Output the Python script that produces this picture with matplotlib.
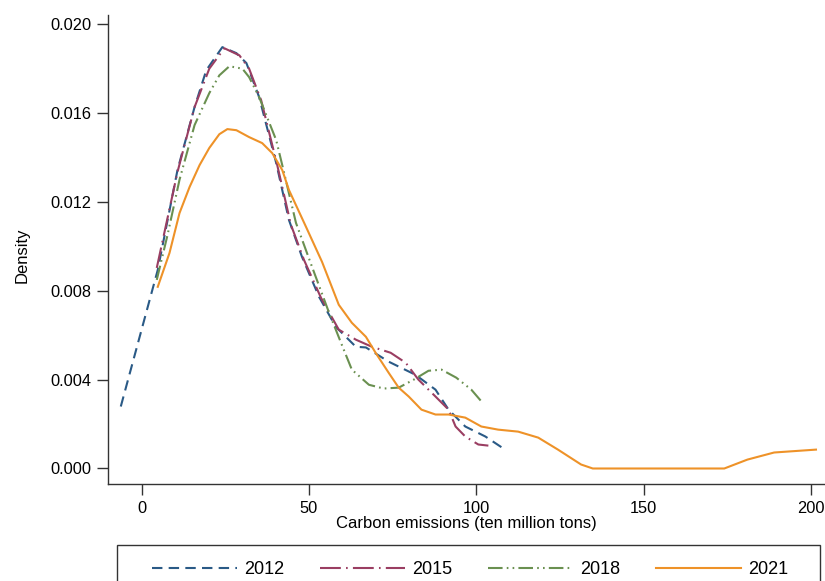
import matplotlib.pyplot as plt
from matplotlib.patches import Rectangle

plt.rcParams['font.family'] = ['Liberation Sans', 'DejaVu Sans']

# 核密度曲线 (从图中读取的点)
x2012 = [-6.25, 4.8, 10.7, 15.8, 19.3, 24.1, 28.3, 31.3, 35.1, 40.2, 44.0, 47.9, 53.0, 58.0,
         64.0, 67.0, 73.8, 81.8, 87.8, 91.7, 96.7, 102.7, 108.6]
y2012 = [0.00279, 0.00894, 0.01344, 0.01627, 0.01793, 0.01897, 0.01870, 0.01825, 0.01672,
         0.01375, 0.01119, 0.00953, 0.00773, 0.00638, 0.00548, 0.00545, 0.00481, 0.00422,
         0.00355, 0.00265, 0.00189, 0.00144, 0.00085]

x2015 = [4.5, 10.7, 15.8, 20.2, 24.7, 29.2, 32.1, 35.7, 40.5, 44.6, 48.5, 53.6, 58.9, 64.0,
         68.8, 74.4, 78.9, 82.7, 87.8, 91.7, 93.8, 96.7, 100.6, 103.6]
y2015 = [0.00903, 0.01335, 0.01627, 0.0180, 0.01892, 0.0186, 0.0180, 0.01658, 0.01366,
         0.01097, 0.00939, 0.00768, 0.00625, 0.0058, 0.00548, 0.00521, 0.00476, 0.0040,
         0.00324, 0.00265, 0.00189, 0.00144, 0.00108, 0.00103]

x2018 = [4.5, 7.7, 11.3, 15.8, 20.2, 23.2, 26.2, 30.1, 32.1, 35.1, 40.2, 42.0, 46.1, 50.9,
         56.0, 59.8, 62.8, 67.9, 72.3, 76.8, 81.3, 85.7, 89.6, 94.0, 98.5, 101.8]
y2018 = [0.00849, 0.0105, 0.0130, 0.01546, 0.0169, 0.0177, 0.01811, 0.0180, 0.01762, 0.01672,
         0.01478, 0.01366, 0.01106, 0.00908, 0.00701, 0.00557, 0.00445, 0.00377, 0.0036,
         0.00364, 0.0040, 0.0044, 0.00445, 0.00409, 0.00355, 0.00297]

x2021 = [4.8, 8.3, 11.3, 14.3, 17.3, 20.2, 23.2, 25.6, 28.3, 32.1, 36.0, 39.0, 42.0, 44.0,
         49.1, 53.9, 58.9, 62.8, 67.0, 69.9, 73.8, 76.8, 79.8, 83.6, 87.8, 91.7, 96.7, 101.5,
         106.5, 112.5, 118.5, 124.4, 131.3, 134.8, 174.1, 181.0, 189.0, 201.5]
y2021 = [0.00818, 0.0097, 0.0115, 0.01267, 0.01366, 0.01443, 0.01505, 0.01528, 0.01523,
         0.01492, 0.01465, 0.0142, 0.01344, 0.01254, 0.01088, 0.0093, 0.00737, 0.00656,
         0.00593, 0.00521, 0.00431, 0.00364, 0.00324, 0.00265, 0.00243, 0.00243, 0.00229,
         0.00189, 0.00175, 0.00166, 0.00139, 0.00085, 0.00018, 0.0, 0.0, 0.0004, 0.00072,
         0.00085]

xticks = [0, 50, 100, 150, 200]
yticks = [0.000, 0.004, 0.008, 0.012, 0.016, 0.020]

fig = plt.figure(figsize=(8.25, 5.81), dpi=100)
ax = fig.add_axes([108 / 825, 97 / 581, 717 / 825, 469 / 581])

lw = 1.5
ax.plot(x2012, y2012, color='#2a5a86', lw=lw, ls=(0, (5, 3)), label='2012')
ax.plot(x2015, y2015, color='#9a3e62', lw=lw, ls=(0, (10, 2.5, 0.8, 2.5)), label='2015')
ax.plot(x2018, y2018, color='#6a9050', lw=lw, ls=(0, (7, 2, 0.8, 2, 0.8, 2)), label='2018')
ax.plot(x2021, y2021, color='#ee9228', lw=lw, ls='-', label='2021')

ax.set_xlim(-10.07, 204.2)
ax.set_ylim(-0.000698, 0.020417)
ax.set_xticks(xticks)
ax.set_xticklabels([str(t) for t in xticks])
ax.set_yticks(yticks)
ax.set_yticklabels(['%.3f' % t for t in yticks])
ax.tick_params(axis='both', direction='out', length=8, width=1, color='#333333',
               labelsize=11.8, pad=4)
ax.spines['top'].set_visible(False)
ax.spines['right'].set_visible(False)
for s in ['left', 'bottom']:
    ax.spines[s].set_color('#333333')
    ax.spines[s].set_linewidth(1)

ax.set_xlabel('Carbon emissions (ten million tons)', fontsize=12, labelpad=0)
fig.text(22 / 825, 1 - 255 / 581, 'Density', rotation=90, fontsize=12,
         ha='center', va='center')

# 图例外框
fig.patches.append(Rectangle((117 / 825, -20 / 581), 703 / 825, 56 / 581,
                             transform=fig.transFigure, fill=False,
                             edgecolor='#333333', linewidth=1))
leg = fig.legend(loc='center', ncol=4, mode='expand',
                 bbox_to_anchor=(152 / 825, 0, 636 / 825, 22 / 581),
                 fontsize=13, handlelength=4.7, handletextpad=0.4,
                 frameon=False, borderaxespad=0, borderpad=0)

fig.savefig('out.png', dpi=100)
